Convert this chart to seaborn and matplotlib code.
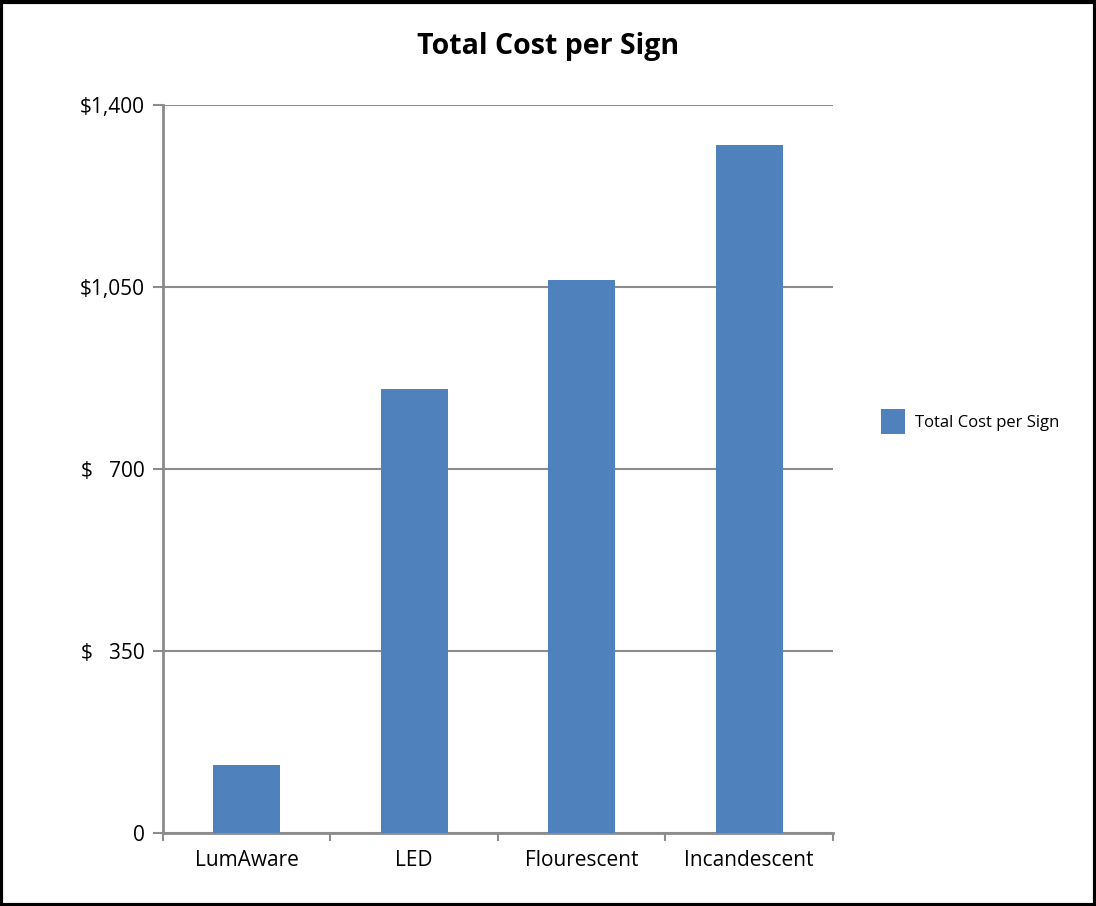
import numpy as np
import pandas as pd
import matplotlib
matplotlib.use('Agg')
import matplotlib.pyplot as plt
import seaborn as sns
from matplotlib.patches import Rectangle

# Data
categories = ['LumAware', 'LED', 'Flourescent', 'Incandescent']
total_cost = [131, 854, 1063, 1323]
ytick_values = [0, 350, 700, 1050, 1400]
ytick_labels = ['0', '$   350', '$   700', '$1,050', '$1,400']

df = pd.DataFrame({'type': categories, 'cost': total_cost})

sns.set_style('white', {'xtick.bottom': True, 'ytick.left': True,
                        'text.color': 'black', 'xtick.color': 'black',
                        'ytick.color': 'black'})
plt.rcParams['font.family'] = ['Open Sans', 'DejaVu Sans']

fig = plt.figure(figsize=(10.96, 9.06), dpi=100)
ax = fig.add_axes([0.1487, 0.0806, 0.6113, 0.8035])

sns.barplot(data=df, x='type', y='cost', color='#4F81BD', width=0.4,
            saturation=1, ax=ax, label='Total Cost per Sign', zorder=3,
            linewidth=0)

ax.set_ylim(0, 1400)
ax.set_xlim(-0.5, 3.5)
ax.set_yticks(ytick_values)
ax.set_yticklabels(ytick_labels, fontsize=15, color='black')
ax.yaxis.grid(True, color='#8c8c8c', linewidth=1.5, zorder=0)
ax.set_axisbelow(True)
ax.tick_params(axis='y', length=7, width=1.5, color='#8c8c8c', pad=6)
ax.tick_params(axis='x', which='major', length=0, labelsize=15, pad=12,
               labelcolor='black')
ax.set_xticks(np.arange(len(categories) + 1) - 0.5, minor=True)
ax.tick_params(axis='x', which='minor', length=6, width=1.5, color='#8c8c8c',
               direction='out', bottom=True)
ax.set_xlabel('')
ax.set_ylabel('')
for s in ['top', 'right']:
    ax.spines[s].set_visible(False)
for s in ['left', 'bottom']:
    ax.spines[s].set_color('#8c8c8c')
    ax.spines[s].set_linewidth(2)

fig.suptitle('Total Cost per Sign', fontsize=20.5, fontweight='bold', y=0.965,
             color='black')

leg = ax.legend(loc='center left', bbox_to_anchor=(1.05, 0.565), frameon=False,
                fontsize=12, handlelength=1.4, handleheight=1.9,
                handletextpad=0.6)
for t in leg.get_texts():
    t.set_color('black')

fig.add_artist(Rectangle((0.001, 0.001), 0.998, 0.997, transform=fig.transFigure,
                         fill=False, edgecolor='black', linewidth=3))

fig.savefig('out.png', dpi=100)
